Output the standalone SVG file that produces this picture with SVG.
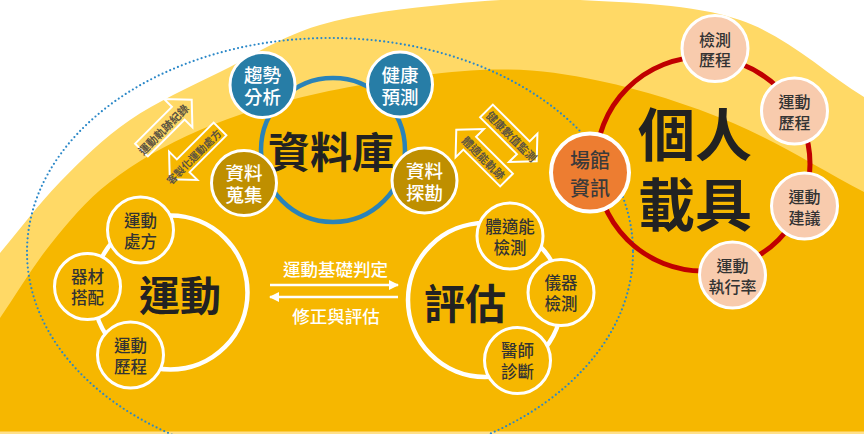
<svg xmlns="http://www.w3.org/2000/svg" width="864" height="434" viewBox="0 0 864 434">
<defs>
<style>
text{font-family:'Noto Sans CJK TC','Noto Sans CJK SC',sans-serif;text-anchor:middle;dominant-baseline:central}
.big{font-size:41px;font-weight:700;fill:#222}
.huge{font-size:57px;font-weight:700;fill:#222}
.w{font-size:18.5px;font-weight:500;fill:#fff}
.d{font-size:16.5px;font-weight:500;fill:#333}
.p{font-size:16px;font-weight:500;fill:#333}
.al{font-size:11px;font-weight:700;fill:#5d5440}
.mid{font-size:17.5px;font-weight:500;fill:#fff}
.blue{fill:#277DA6;stroke:#fff;stroke-width:3}
.gold{fill:#BF8F00;stroke:#fff;stroke-width:3}
.org{fill:#F6B700;stroke:#fff;stroke-width:3}
.peach{fill:#F8CBAD;stroke:#fff;stroke-width:3}
.barrow{fill:none;stroke:#fff;stroke-width:2}
</style>
<marker id="ah" viewBox="0 0 10 10" refX="9" refY="5" markerWidth="4" markerHeight="4" orient="auto-start-reverse">
<path d="M0,0 L10,5 L0,10 z" fill="#fff"/>
</marker>
<polygon id="blk" points="0,-9 52,-9 52,-20 71,0 52,20 52,9 0,9"/>
</defs>
<rect width="864" height="434" fill="#fff"/>
<path d="M0,253 C20,229.3 38.3,204.2 60,182 C81.7,159.8 103.3,138.3 130,120 C156.7,101.7 188.3,87.8 220,72 C251.7,56.2 281.7,36.3 320,25 C358.3,13.7 406.7,8.2 450,4 C493.3,-0.2 531.7,-2.7 580,0 C628.3,2.7 692.7,3.8 740,20 C787.3,36.2 822.7,71.3 864,97 L864,434 L0,434 Z" fill="#FFD966"/>
<path d="M0,318 C16.7,293.7 31.7,267.7 50,245 C68.3,222.3 85,201.2 110,182 C135,162.8 165,144.8 200,130 C235,115.2 273.3,103 320,93 C366.7,83 433.3,72 480,70 C526.7,68 557.8,72.2 600,81 C642.2,89.8 689,104.5 733,123 C777,141.5 820.3,169 864,192 L864,434 L0,434 Z" fill="#F6B700"/>
<rect x="0" y="431.5" width="864" height="2.5" fill="#FFE08A"/>
<ellipse cx="330" cy="252" rx="303" ry="214" fill="none" stroke="#2B88C8" stroke-width="2.2" stroke-dasharray="0 4.2" stroke-linecap="round"/>
<g id="connectors">
<use href="#blk" class="barrow" transform="translate(141.5,150) rotate(-45)"/>
<text class="al" transform="translate(163,129) rotate(-45)">運動軌跡紀錄</text>
<use href="#blk" class="barrow" transform="translate(220,129) rotate(135)"/>
<text class="al" transform="translate(193.5,156.5) rotate(-45)" style="font-size:10.3px">客製化運動處方</text>
<use href="#blk" class="barrow" transform="translate(486.5,111) rotate(45)"/>
<text class="al" transform="translate(512,136) rotate(45)">健康數值監測</text>
<use href="#blk" class="barrow" transform="translate(506.5,180) rotate(-135)"/>
<text class="al" transform="translate(484,157.5) rotate(45)">體適能軌跡</text>
<line x1="270" y1="285" x2="398" y2="285" stroke="#fff" stroke-width="2.5" marker-end="url(#ah)"/>
<line x1="398" y1="297" x2="270" y2="297" stroke="#fff" stroke-width="2.5" marker-end="url(#ah)"/>
<text class="mid" x="335.5" y="268">運動基礎判定</text>
<text class="mid" x="336" y="315">修正與評估</text>
</g>
<g id="db">
<circle cx="333" cy="150" r="72" fill="none" stroke="#2A83B8" stroke-width="4.5"/>
<text class="big" x="331" y="149" style="font-size:42px">資料庫</text>
</g>
<g id="trend"><circle class="blue" cx="262.5" cy="85" r="32.5"/><text class="w"><tspan x="262.5" y="74">趨勢</tspan><tspan x="262.5" y="96">分析</tspan></text></g>
<g id="health"><circle class="blue" cx="400" cy="84.5" r="32.5"/><text class="w"><tspan x="400" y="73.5">健康</tspan><tspan x="400" y="95.5">預測</tspan></text></g>
<g id="collect"><circle class="gold" cx="244" cy="183" r="32.5"/><text class="w"><tspan x="244" y="172">資料</tspan><tspan x="244" y="194">蒐集</tspan></text></g>
<g id="mining"><circle class="gold" cx="424.5" cy="180.5" r="32.5"/><text class="w"><tspan x="424.5" y="169.5">資料</tspan><tspan x="424.5" y="191.5">探勘</tspan></text></g>
<g id="exercise">
<circle cx="170.5" cy="292.5" r="77" fill="none" stroke="#fff" stroke-width="4.5"/>
<text class="big" x="180" y="292.5">運動</text>
</g>
<g id="ex-presc"><circle class="org" cx="140.5" cy="230" r="33"/><text class="d"><tspan x="140.5" y="220">運動</tspan><tspan x="140.5" y="240.5">處方</tspan></text></g>
<g id="ex-equip"><circle class="org" cx="87.5" cy="286.5" r="33"/><text class="d"><tspan x="87.5" y="276">器材</tspan><tspan x="87.5" y="297">搭配</tspan></text></g>
<g id="ex-hist"><circle class="org" cx="130.5" cy="355" r="33"/><text class="d"><tspan x="130.5" y="344.5">運動</tspan><tspan x="130.5" y="365.5">歷程</tspan></text></g>
<g id="assess">
<circle cx="485" cy="300" r="77" fill="none" stroke="#fff" stroke-width="4.5"/>
<text class="big" x="465" y="301">評估</text>
</g>
<g id="as-fit"><circle class="org" cx="510" cy="236" r="33"/><text class="d"><tspan x="510" y="225.5">體適能</tspan><tspan x="510" y="246.5">檢測</tspan></text></g>
<g id="as-inst"><circle class="org" cx="561" cy="292.5" r="33"/><text class="d"><tspan x="561" y="282">儀器</tspan><tspan x="561" y="303">檢測</tspan></text></g>
<g id="as-doc"><circle class="org" cx="517.5" cy="360.5" r="33"/><text class="d"><tspan x="517.5" y="350">醫師</tspan><tspan x="517.5" y="371">診斷</tspan></text></g>
<g id="personal">
<circle cx="703" cy="164" r="107" fill="none" stroke="#C00000" stroke-width="5"/>
<text class="huge"><tspan x="695" y="131">個人</tspan><tspan x="695" y="201">載具</tspan></text>
</g>
<g id="p-test"><circle class="peach" cx="715" cy="48.5" r="33"/><text class="p"><tspan x="715" y="38.5">檢測</tspan><tspan x="715" y="59">歷程</tspan></text></g>
<g id="p-hist"><circle class="peach" cx="794.5" cy="111" r="33"/><text class="p"><tspan x="794.5" y="101">運動</tspan><tspan x="794.5" y="121.5">歷程</tspan></text></g>
<g id="p-adv"><circle class="peach" cx="804.5" cy="206" r="33"/><text class="p"><tspan x="804.5" y="196">運動</tspan><tspan x="804.5" y="216.5">建議</tspan></text></g>
<g id="p-rate"><circle class="peach" cx="732.5" cy="275" r="33"/><text class="p"><tspan x="732.5" y="265">運動</tspan><tspan x="732.5" y="285.5">執行率</tspan></text></g>
<g id="venue"><circle cx="590" cy="172.5" r="39" fill="#ED7D31" stroke="#fff" stroke-width="4"/><text style="font-size:20px;font-weight:500;fill:#3a3a3a"><tspan x="590" y="159">場館</tspan><tspan x="590" y="187">資訊</tspan></text></g>
</svg>
